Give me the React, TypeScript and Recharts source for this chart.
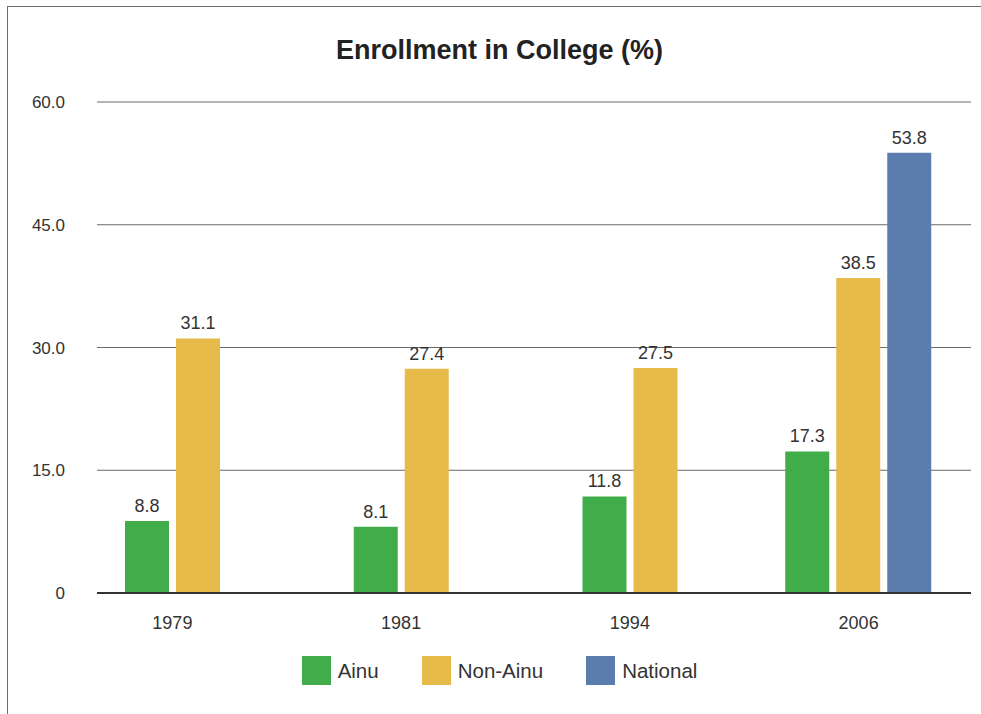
import React from 'react';
import { Bar, BarChart, CartesianGrid, LabelList, Legend, XAxis, YAxis } from 'recharts';

// values
const YEARS = ['1979', '1981', '1994', '2006'];
const AINU = [8.8, 8.1, 11.8, 17.3];
const NON_AINU = [31.1, 27.4, 27.5, 38.5];
const NATIONAL: (number | null)[] = [null, null, null, 53.8];
const Y_TICKS = [0, 15, 30, 45, 60];
const LEGEND_ORDER = ['Ainu', 'Non-Ainu', 'National'];

const GREEN = '#41ad4a';
const YELLOW = '#e6bb49';
const BLUE = '#5b7dad';
const TEXT = '#333333';
const FONT = '"Liberation Sans", Arial, sans-serif';

// Years without a national figure draw two bars, the others three. Each group
// sits on its own x axis so Recharts centres the bars that are actually there.
const rows = YEARS.map((year, i) => {
  const hasNational = NATIONAL[i] != null;
  return {
    year,
    ainuPair: hasNational ? null : AINU[i],
    nonAinuPair: hasNational ? null : NON_AINU[i],
    ainuTrio: hasNational ? AINU[i] : null,
    nonAinuTrio: hasNational ? NON_AINU[i] : null,
    national: NATIONAL[i],
  };
});

const X_PADDING = { left: -39, right: -2 };

const labelProps = {
  position: 'top' as const,
  offset: 9,
  fill: TEXT,
  fontSize: 18,
  fontFamily: FONT,
};

function LegendContent({ payload }: { payload?: { value: string; color: string; type?: string }[] }) {
  const items = (payload ?? [])
    .filter((p) => p.type !== 'none')
    .sort((a, b) => LEGEND_ORDER.indexOf(a.value) - LEGEND_ORDER.indexOf(b.value));
  return (
    <div style={{ display: 'flex', justifyContent: 'center', gap: 43, paddingTop: 18, paddingLeft: 28 }}>
      {items.map((p) => (
        <div key={p.value} style={{ display: 'flex', alignItems: 'center' }}>
          <span style={{ display: 'inline-block', width: 29, height: 29, background: p.color, marginRight: 7 }} />
          <span style={{ fontFamily: FONT, fontSize: 20.5, color: TEXT }}>{p.value}</span>
        </div>
      ))}
    </div>
  );
}

export default function App() {
  return (
    <div style={{ position: 'absolute', left: 0, top: 0, width: 981, height: 714, background: '#fff' }}>
      {/* frame cut by the crop: only top and left edges show */}
      <div
        style={{
          position: 'absolute',
          left: 7,
          top: 6,
          width: 980,
          height: 720,
          borderLeft: '1px solid #6f6f6f',
          borderTop: '1px solid #6f6f6f',
        }}
      />
      <div
        style={{
          position: 'absolute',
          left: 0,
          top: 35,
          width: 981,
          paddingLeft: 18,
          boxSizing: 'border-box',
          textAlign: 'center',
          fontFamily: FONT,
          fontWeight: 'bold',
          fontSize: 27,
          color: '#222',
        }}
      >
        Enrollment in College (%)
      </div>
      <BarChart
        width={981}
        height={714}
        data={rows}
        margin={{ top: 102, right: 10, bottom: 0, left: 0 }}
        barSize={44}
        barGap={7}
        style={{ position: 'absolute', left: 0, top: 0 }}
      >
        <CartesianGrid vertical={false} stroke="#6a6a6a" />
        <XAxis
          xAxisId="pair"
          dataKey="year"
          padding={X_PADDING}
          height={45}
          tickLine={false}
          tickSize={0}
          tickMargin={23}
          axisLine={{ stroke: '#333', strokeWidth: 2 }}
          tick={{ fill: TEXT, fontSize: 18, fontFamily: FONT }}
        />
        <XAxis xAxisId="trio" dataKey="year" padding={X_PADDING} hide />
        <YAxis
          domain={[0, 60]}
          ticks={Y_TICKS}
          width={97}
          axisLine={false}
          tickLine={false}
          tickSize={0}
          tickMargin={32}
          tickFormatter={(v: number) => (v === 0 ? '0' : v.toFixed(1))}
          tick={{ fill: TEXT, fontSize: 17, fontFamily: FONT }}
        />
        <Legend verticalAlign="bottom" height={76} content={<LegendContent />} />
        <Bar xAxisId="pair" dataKey="ainuPair" name="Ainu" fill={GREEN} isAnimationActive={false}>
          <LabelList dataKey="ainuPair" {...labelProps} />
        </Bar>
        <Bar xAxisId="pair" dataKey="nonAinuPair" name="Non-Ainu" fill={YELLOW} isAnimationActive={false}>
          <LabelList dataKey="nonAinuPair" {...labelProps} />
        </Bar>
        <Bar xAxisId="trio" dataKey="ainuTrio" name="Ainu " fill={GREEN} legendType="none" isAnimationActive={false}>
          <LabelList dataKey="ainuTrio" {...labelProps} />
        </Bar>
        <Bar xAxisId="trio" dataKey="nonAinuTrio" name="Non-Ainu " fill={YELLOW} legendType="none" isAnimationActive={false}>
          <LabelList dataKey="nonAinuTrio" {...labelProps} />
        </Bar>
        <Bar xAxisId="trio" dataKey="national" name="National" fill={BLUE} isAnimationActive={false}>
          <LabelList dataKey="national" {...labelProps} />
        </Bar>
      </BarChart>
    </div>
  );
}
